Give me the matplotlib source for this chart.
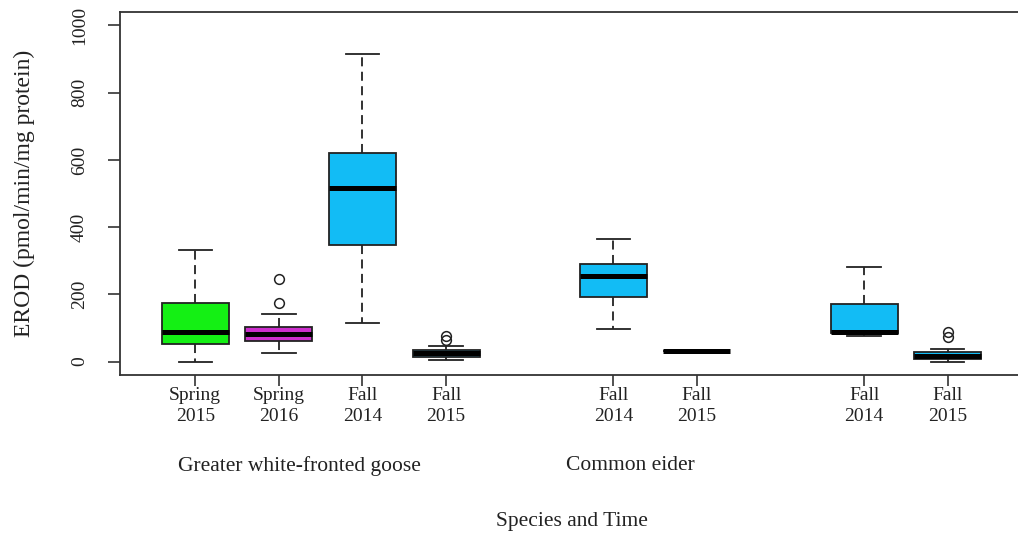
import matplotlib.pyplot as plt

plt.rcParams['font.family'] = ['Liberation Serif', 'DejaVu Serif']

# EROD activity per species / season (box summary values)
labels = ["Spring\n2015", "Spring\n2016", "Fall\n2014", "Fall\n2015",
          "Fall\n2014", "Fall\n2015", "Fall\n2014", "Fall\n2015"]
positions = [1, 2, 3, 4, 6, 7, 9, 10]
whislo = [0, 26, 115, 6, 98, 31, 76, 0]
q1 = [53, 60, 347, 15, 191, 31, 84, 8]
med = [87, 81, 515, 24, 255, 31, 88, 17]
q3 = [173, 102, 621, 33, 291, 31, 170, 27]
whishi = [331, 142, 914, 45, 366, 31, 282, 36]
fliers = [[], [173, 246], [], [65, 76], [], [], [], [72, 88]]
fills = ["#14f014", "#cc2ecc", "#12bcf5", "#12bcf5",
         "#12bcf5", "#12bcf5", "#12bcf5", "#12bcf5"]

species = ["Greater white-fronted goose", "Common eider"]
species_x = [2.25, 6.2]

stats = []
for i in range(len(labels)):
    stats.append(dict(whislo=whislo[i], q1=q1[i], med=med[i], q3=q3[i],
                      whishi=whishi[i], fliers=fliers[i]))

fig = plt.figure(figsize=(10.18, 5.37), dpi=100)
ax = fig.add_axes([120 / 1018, 162 / 537, 903 / 1018, 363 / 537])

bp = ax.bxp(stats, positions=positions, widths=0.8, capwidths=0.4,
            patch_artist=True, showfliers=True,
            boxprops=dict(edgecolor='#222222', linewidth=1.3),
            whiskerprops=dict(color='#222222', linewidth=1.3, linestyle=(0, (5, 3))),
            capprops=dict(color='#222222', linewidth=1.3),
            medianprops=dict(color='black', linewidth=3.6, solid_capstyle='butt'),
            flierprops=dict(marker='o', markerfacecolor='none', markeredgecolor='#222222',
                            markersize=7, markeredgewidth=1.1))
for patch, c in zip(bp['boxes'], fills):
    patch.set_facecolor(c)

ax.set_xlim(0.1, 10.9)
ax.set_ylim(-40, 1040)
ax.set_xticks(positions, labels)
ax.set_yticks(range(0, 1001, 200))

for s in ax.spines.values():
    s.set_linewidth(1.3)
    s.set_color('#333333')
ax.tick_params(axis='both', direction='out', length=9, width=1.2, color='#333333',
               labelsize=14, labelcolor='#222222')
ax.tick_params(axis='x', length=8, pad=1)
ax.tick_params(axis='y', pad=14, labelrotation=90)
for t in ax.get_yticklabels():
    t.set_va('center')
for t in ax.get_xticklabels():
    t.set_linespacing(1.3)

for name, x in zip(species, species_x):
    ax.text(x, -0.25, name, transform=ax.get_xaxis_transform(),
            ha='center', va='center', fontsize=15.5, color='#222222')

ax.set_xlabel("Species and Time", fontsize=15.5, color='#222222', va='center')
ax.xaxis.set_label_coords(0.5, -0.403)
ax.set_ylabel("EROD (pmol/min/mg protein)", fontsize=17, color='#222222', labelpad=26)

fig.savefig("out.png", dpi=100)
